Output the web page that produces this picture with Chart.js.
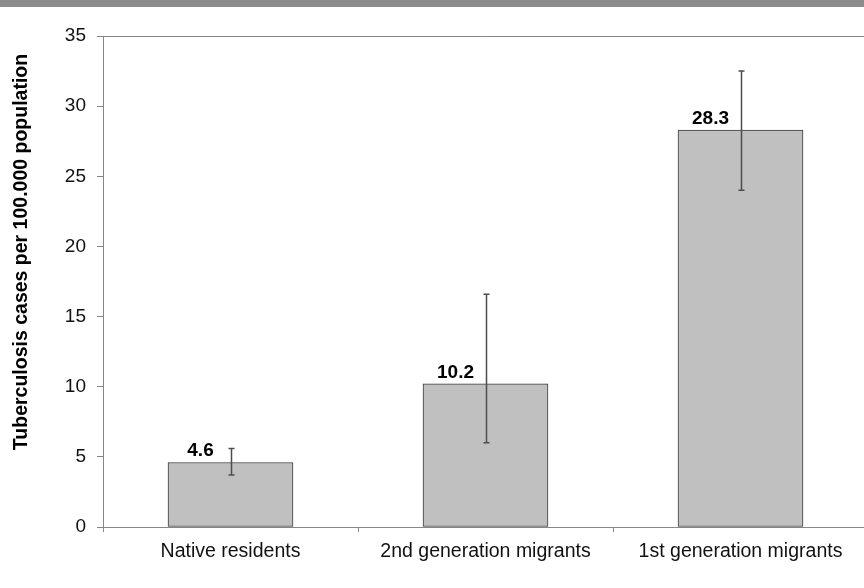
<!DOCTYPE html>
<html>
<head>
<meta charset="utf-8">
<script src="https://cdn.jsdelivr.net/npm/chart.js@4/dist/chart.umd.min.js"></script>
<style>
  html, body { margin: 0; padding: 0; background: #ffffff; overflow: hidden; }
  #wrap { position: relative; width: 864px; height: 588px; overflow: hidden; }
  #band { position: absolute; left: 0; top: 0; width: 864px; height: 7px; background: #8b8b8b; z-index: 2; }
  canvas { position: absolute; left: 0; top: 0; }
</style>
</head>
<body>
<div id="wrap">
  <div id="band"></div>
  <canvas id="c" width="880" height="588"></canvas>
</div>
<script>
// Tuberculosis notification rates by migration background
const categories = ['Native residents', '2nd generation migrants', '1st generation migrants'];
const rates = [4.6, 10.2, 28.3];
const ciLower = [3.7, 6.0, 24.0];
const ciUpper = [5.6, 16.6, 32.5];
const yTicks = [0, 5, 10, 15, 20, 25, 30, 35];
const yTitle = 'Tuberculosis cases per 100.000 population';

const FONT = "'Liberation Sans', Arial, sans-serif";
const AXIS_GRAY = '#878787';

// Confidence interval whiskers drawn over each bar
const errorBars = {
  id: 'errorBars',
  afterDatasetsDraw(chart) {
    const { ctx, scales: { y } } = chart;
    const meta = chart.getDatasetMeta(0);
    ctx.save();
    ctx.strokeStyle = '#4d4d4d';
    ctx.lineWidth = 1.5;
    meta.data.forEach((bar, i) => {
      const x = Math.round(bar.x) + 0.5;
      const yLo = y.getPixelForValue(ciLower[i]);
      const yHi = y.getPixelForValue(ciUpper[i]);
      ctx.beginPath();
      ctx.moveTo(x, yLo); ctx.lineTo(x, yHi);
      ctx.moveTo(x - 3, yLo); ctx.lineTo(x + 3, yLo);
      ctx.moveTo(x - 3, yHi); ctx.lineTo(x + 3, yHi);
      ctx.stroke();
    });
    ctx.restore();
  }
};

// Bold value labels above the bars, left of the whisker
const valueLabels = {
  id: 'valueLabels',
  afterDatasetsDraw(chart) {
    const { ctx } = chart;
    const meta = chart.getDatasetMeta(0);
    ctx.save();
    ctx.fillStyle = '#000000';
    ctx.font = 'bold 19px ' + FONT;
    ctx.textAlign = 'center';
    ctx.textBaseline = 'alphabetic';
    meta.data.forEach((bar, i) => {
      ctx.fillText(rates[i].toFixed(1), bar.x - 30, bar.y - 6);
    });
    ctx.restore();
  }
};

// Top frame line and rotated y-axis title
const frame = {
  id: 'frame',
  afterDraw(chart) {
    const { ctx, chartArea } = chart;
    ctx.save();
    ctx.strokeStyle = AXIS_GRAY;
    ctx.lineWidth = 1;
    ctx.beginPath();
    ctx.moveTo(chartArea.left, chartArea.top + 0.5);
    ctx.lineTo(chartArea.right, chartArea.top + 0.5);
    ctx.stroke();

    ctx.translate(26.5, 252);
    ctx.rotate(-Math.PI / 2);
    ctx.fillStyle = '#000000';
    ctx.font = 'bold 19.5px ' + FONT;
    ctx.textAlign = 'center';
    ctx.textBaseline = 'alphabetic';
    ctx.fillText(yTitle, 0, 0);
    ctx.restore();
  }
};

new Chart(document.getElementById('c'), {
  type: 'bar',
  data: {
    labels: categories,
    datasets: [{
      data: rates,
      backgroundColor: '#c0c0c0',
      borderColor: '#3a3a3a',
      borderWidth: 1,
      borderSkipped: false,
      barThickness: 125
    }]
  },
  options: {
    responsive: false,
    animation: false,
    devicePixelRatio: 1,
    layout: { padding: { left: 0, right: 12, top: 36, bottom: 0 } },
    plugins: {
      legend: { display: false },
      tooltip: { enabled: false },
      title: { display: false }
    },
    scales: {
      x: {
        grid: {
          display: true,
          offset: true,
          drawOnChartArea: false,
          drawTicks: true,
          tickLength: 5,
          color: AXIS_GRAY
        },
        border: { display: true, color: AXIS_GRAY, width: 1 },
        ticks: {
          font: { family: FONT, size: 19.5 },
          color: '#111111',
          padding: 8,
          maxRotation: 0,
          autoSkip: false
        },
        afterFit(scale) { scale.height = 61; }
      },
      y: {
        min: 0,
        max: 35,
        afterBuildTicks(scale) { scale.ticks = yTicks.map(v => ({ value: v })); },
        grid: {
          display: true,
          drawOnChartArea: false,
          drawTicks: true,
          tickLength: 6,
          color: AXIS_GRAY
        },
        border: { display: true, color: AXIS_GRAY, width: 1 },
        ticks: {
          font: { family: FONT, size: 19 },
          color: '#111111',
          padding: 11
        },
        afterFit(scale) { scale.width = 103; }
      }
    }
  },
  plugins: [errorBars, valueLabels, frame]
});
</script>
</body>
</html>
